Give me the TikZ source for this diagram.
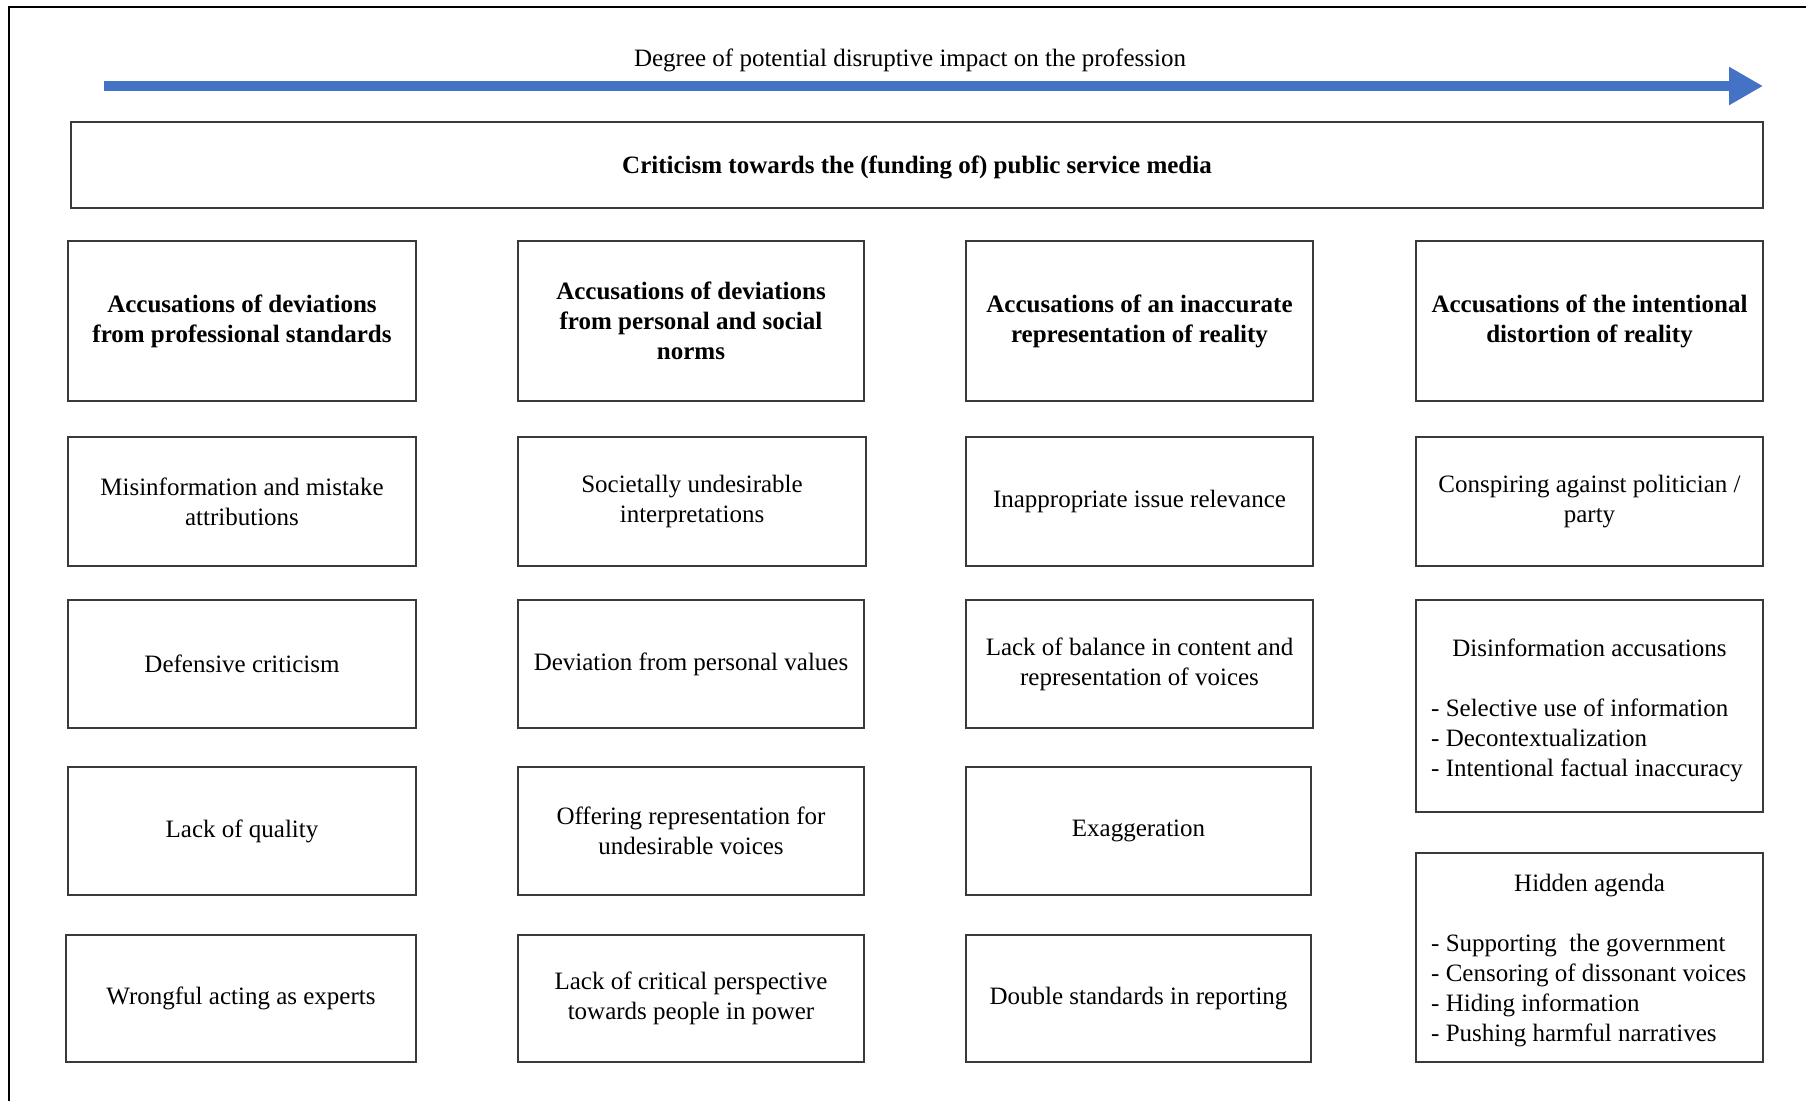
\documentclass[tikz,border=0pt]{standalone}
\usepackage{fontspec}
\setmainfont{Liberation Serif}
\usetikzlibrary{arrows.meta}
\definecolor{arrowblue}{HTML}{4472C4}
\definecolor{boxline}{HTML}{3A3A3A}
\begin{document}
\begin{tikzpicture}[x=1pt,y=-1pt,
  every node/.style={font=\fontsize{25}{30}\selectfont},
  cat/.style={draw=boxline, line width=1.6pt, inner sep=0pt, align=center, font=\fontsize{25}{30}\selectfont\bfseries},
  item/.style={draw=boxline, line width=1.6pt, inner sep=0pt, align=center},
  listbox/.style={draw=boxline, line width=1.6pt, inner sep=0pt},
  listtext/.style={inner sep=0pt, align=left, anchor=north west}]
\useasboundingbox (0,0) rectangle (1806,1101);
% outer frame (cropped)
\draw[line width=2pt, black] (9,1101) -- (9,7) -- (1806,7);
% arrow
\coordinate (arrS) at (104,86);
\coordinate (arrE) at (1763,86);
\draw[arrowblue, line width=10pt, -{Triangle[length=34pt,width=36pt]}] (arrS) -- (arrE);
\node (deg) at (910,60.5) {Degree of potential disruptive impact on the profession};
% top box
\node[cat, minimum width=1692pt, minimum height=86pt, text depth=0pt] (top) at (917,165) {Criticism towards the (funding of) public service media};
% column 1
\node[cat, minimum width=348pt, minimum height=160pt] (h1) at (242,321) {Accusations of deviations\\from professional standards};
\node[item, minimum width=348pt, minimum height=129pt] (a2) at (242,501.5) {Misinformation and mistake\\attributions};
\node[item, minimum width=348pt, minimum height=128pt] (a3) at (242,664) {Defensive criticism};
\node[item, minimum width=348pt, minimum height=128pt] (a4) at (242,831) {Lack of quality};
\node[item, minimum width=350pt, minimum height=127pt] (a5) at (241,998.5) {Wrongful acting as experts};
% column 2
\node[cat, minimum width=346pt, minimum height=160pt] (h2) at (691,321) {Accusations of deviations\\from personal and social\\norms};
\node[item, minimum width=348pt, minimum height=129pt] (b2) at (692,501.5) {Societally undesirable\\interpretations};
\node[item, minimum width=346pt, minimum height=128pt] (b3) at (691,664) {Deviation from personal values};
\node[item, minimum width=346pt, minimum height=128pt] (b4) at (691,831) {Offering representation for\\undesirable voices};
\node[item, minimum width=346pt, minimum height=127pt] (b5) at (691,998.5) {Lack of critical perspective\\towards people in power};
% column 3
\node[cat, minimum width=347pt, minimum height=160pt] (h3) at (1139.5,321) {Accusations of an inaccurate\\representation of reality};
\node[item, minimum width=347pt, minimum height=129pt] (c2) at (1139.5,501.5) {Inappropriate issue relevance};
\node[item, minimum width=347pt, minimum height=128pt] (c3) at (1139.5,664) {Lack of balance in content and\\representation of voices};
\node[item, minimum width=345pt, minimum height=128pt] (c4) at (1138.5,831) {Exaggeration};
\node[item, minimum width=345pt, minimum height=127pt] (c5) at (1138.5,998.5) {Double standards in reporting};
% column 4
\node[cat, minimum width=347pt, minimum height=160pt] (h4) at (1589.5,321) {Accusations of the intentional\\distortion of reality};
\node[item, minimum width=347pt, minimum height=129pt] (d2) at (1589.5,501.5) {Conspiring against politician /\\party};
\node[listbox, minimum width=347pt, minimum height=212pt] (d3) at (1589.5,706) {};
\node[anchor=base] (d3t) at (1589.5,656) {Disinformation accusations};
\node[listtext] (d3l) at (1431,699) {- Selective use of information\\- Decontextualization\\- Intentional factual inaccuracy};
\node[listbox, minimum width=347pt, minimum height=209pt] (d4) at (1589.5,957.5) {};
\node[anchor=base] (d4t) at (1589.5,891) {Hidden agenda};
\node[listtext] (d4l) at (1431,934) {- Supporting\ \ the government\\- Censoring of dissonant voices\\- Hiding information\\- Pushing harmful narratives};
\end{tikzpicture}
\end{document}
